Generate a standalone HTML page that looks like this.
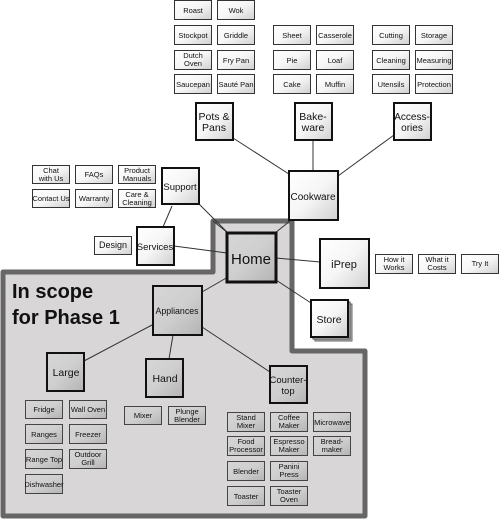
<!DOCTYPE html>
<html><head><meta charset="utf-8"><style>
html,body{margin:0;padding:0;background:#fff}
svg{display:block}
text{font-family:"Liberation Sans",sans-serif;fill:#111}
.s{font-size:7.5px}
.m{font-size:10.5px}
</style></head><body>
<svg width="500" height="519" viewBox="0 0 500 519" xmlns="http://www.w3.org/2000/svg">
<defs>
<linearGradient id="w" x1="0" y1="0" x2="1" y2="1"><stop offset="0" stop-color="#fff"/><stop offset="0.5" stop-color="#f6f6f6"/><stop offset="1" stop-color="#d0d0d0"/></linearGradient>
<linearGradient id="g" x1="0" y1="0" x2="1" y2="1"><stop offset="0" stop-color="#d6d6d6"/><stop offset="0.5" stop-color="#cfcfcf"/><stop offset="1" stop-color="#b4b4b4"/></linearGradient>
</defs>
<path d="M213,221 L292,221 L292,351 L365,351 L365,516 L3,516 L3,272 L213,272 Z" fill="#d8d6d6" stroke="#666" stroke-width="5" stroke-linejoin="round"/>
<text x="12" y="298" style="font-size:20px;font-weight:bold">In scope</text>
<text x="12" y="324" style="font-size:20px;font-weight:bold">for Phase 1</text>
<g stroke="#333" stroke-width="1" fill="none">
<line x1="233" y1="138" x2="292" y2="176"/>
<line x1="313" y1="140" x2="313" y2="171"/>
<line x1="394" y1="135" x2="338" y2="176"/>
<line x1="199" y1="204" x2="228" y2="233"/>
<line x1="172" y1="206" x2="163" y2="227"/>
<line x1="174" y1="246" x2="227" y2="253"/>
<line x1="213" y1="221" x2="228" y2="233"/>
<line x1="290" y1="221" x2="275" y2="233"/>
<line x1="276" y1="258" x2="320" y2="262"/>
<line x1="276" y1="280" x2="311" y2="303"/>
<line x1="228" y1="277" x2="202" y2="292"/>
<line x1="152" y1="325" x2="84" y2="361"/>
<line x1="173" y1="335" x2="169" y2="359"/>
<line x1="202" y1="327" x2="270" y2="372"/>
</g>
<g stroke="#333" stroke-width="1" fill="url(#w)">
<rect x="174.5" y="0.5" width="37" height="19"/><rect x="217.5" y="0.5" width="37" height="19"/>
<rect x="174.5" y="25.5" width="37" height="19"/><rect x="217.5" y="25.5" width="37" height="19"/>
<rect x="174.5" y="50.5" width="37" height="19"/><rect x="217.5" y="50.5" width="37" height="19"/>
<rect x="174.5" y="74.5" width="37" height="19"/><rect x="217.5" y="74.5" width="37" height="19"/>
<rect x="273.5" y="25.5" width="37" height="19"/><rect x="316.5" y="25.5" width="37" height="19"/>
<rect x="273.5" y="50.5" width="37" height="19"/><rect x="316.5" y="50.5" width="37" height="19"/>
<rect x="273.5" y="74.5" width="37" height="19"/><rect x="316.5" y="74.5" width="37" height="19"/>
<rect x="372.5" y="25.5" width="37" height="19"/><rect x="415.5" y="25.5" width="37" height="19"/>
<rect x="372.5" y="50.5" width="37" height="19"/><rect x="415.5" y="50.5" width="37" height="19"/>
<rect x="372.5" y="74.5" width="37" height="19"/><rect x="415.5" y="74.5" width="37" height="19"/>
<rect x="32.5" y="165.5" width="37" height="18"/><rect x="75.5" y="165.5" width="37" height="18"/><rect x="118.5" y="165.5" width="37" height="18"/>
<rect x="32.5" y="189.5" width="37" height="18"/><rect x="75.5" y="189.5" width="37" height="18"/><rect x="118.5" y="189.5" width="37" height="18"/>
<rect x="94.5" y="236.5" width="37" height="18"/>
<rect x="375.5" y="254.5" width="37" height="19"/><rect x="418.5" y="254.5" width="37" height="19"/><rect x="461.5" y="254.5" width="37" height="19"/>
</g>
<g stroke="#111" stroke-width="2" fill="url(#w)">
<rect x="196" y="103" width="37" height="37"/>
<rect x="295" y="103" width="37" height="37"/>
<rect x="394" y="103" width="37" height="37"/>
<rect x="289" y="171" width="49" height="49"/>
<rect x="162" y="168" width="37" height="36"/>
<rect x="137" y="227" width="37" height="38"/>
<rect x="320" y="239" width="49" height="49"/>
<rect x="315" y="304" width="37" height="37" fill="#bbb" stroke="#666" stroke-width="1"/>
<rect x="313" y="302" width="37" height="37" fill="#ddd" stroke="#444" stroke-width="1"/>
<rect x="311" y="300" width="37" height="37"/>
</g>
<g stroke="#111" fill="url(#g)">
<rect x="227" y="233" width="49" height="49" stroke-width="3"/>
<rect x="153" y="286" width="49" height="49" stroke-width="2"/>
<rect x="47" y="353" width="37" height="38" stroke-width="2"/>
<rect x="146" y="359" width="37" height="38" stroke-width="2"/>
<rect x="270" y="366" width="37" height="37" stroke-width="2"/>
</g>
<g stroke="#444" stroke-width="1" fill="url(#g)">
<rect x="25.5" y="400.5" width="37" height="18"/><rect x="69.5" y="400.5" width="37" height="18"/>
<rect x="25.5" y="424.5" width="37" height="19"/><rect x="69.5" y="424.5" width="37" height="19"/>
<rect x="25.5" y="449.5" width="37" height="19"/><rect x="69.5" y="449.5" width="37" height="19"/>
<rect x="25.5" y="474.5" width="37" height="19"/>
<rect x="124.5" y="406.5" width="37" height="18"/><rect x="168.5" y="406.5" width="37" height="18"/>
<rect x="227.5" y="412.5" width="37" height="19"/><rect x="270.5" y="412.5" width="37" height="19"/><rect x="313.5" y="412.5" width="37" height="19"/>
<rect x="227.5" y="436.5" width="37" height="19"/><rect x="270.5" y="436.5" width="37" height="19"/><rect x="313.5" y="436.5" width="37" height="19"/>
<rect x="227.5" y="461.5" width="37" height="19"/><rect x="270.5" y="461.5" width="37" height="19"/>
<rect x="227.5" y="486.5" width="37" height="19"/><rect x="270.5" y="486.5" width="37" height="19"/>
</g>
<g class="s" text-anchor="middle">
<text x="193" y="13">Roast</text><text x="236" y="13">Wok</text>
<text x="193" y="38">Stockpot</text><text x="236" y="38">Griddle</text>
<text x="193" y="58">Dutch</text><text x="193" y="66">Oven</text><text x="236" y="63">Fry Pan</text>
<text x="193" y="87">Saucepan</text><text x="236" y="87">Sauté Pan</text>
<text x="292" y="38">Sheet</text><text x="335" y="38">Casserole</text>
<text x="292" y="63">Pie</text><text x="335" y="63">Loaf</text>
<text x="292" y="87">Cake</text><text x="335" y="87">Muffin</text>
<text x="391" y="38">Cutting</text><text x="434" y="38">Storage</text>
<text x="391" y="63">Cleaning</text><text x="434" y="63">Measuring</text>
<text x="391" y="87">Utensils</text><text x="434" y="87">Protection</text>
<text x="51" y="173">Chat</text><text x="51" y="181">with Us</text>
<text x="94" y="177">FAQs</text>
<text x="137" y="173">Product</text><text x="137" y="181">Manuals</text>
<text x="51" y="201">Contact Us</text><text x="94" y="201">Warranty</text>
<text x="137" y="197">Care &amp;</text><text x="137" y="205">Cleaning</text>
<text x="113" y="248" style="font-size:9px">Design</text>
<text x="394" y="262">How it</text><text x="394" y="270">Works</text>
<text x="437" y="262">What it</text><text x="437" y="270">Costs</text>
<text x="480" y="266">Try It</text>
<text x="44" y="412">Fridge</text><text x="88" y="412">Wall Oven</text>
<text x="44" y="437">Ranges</text><text x="88" y="437">Freezer</text>
<text x="44" y="462">Range Top</text><text x="88" y="457">Outdoor</text><text x="88" y="465">Grill</text>
<text x="44" y="487">Dishwasher</text>
<text x="143" y="418">Mixer</text><text x="187" y="414">Plunge</text><text x="187" y="422">Blender</text>
<text x="246" y="420">Stand</text><text x="246" y="428">Mixer</text>
<text x="289" y="420">Coffee</text><text x="289" y="428">Maker</text>
<text x="332" y="425">Microwave</text>
<text x="246" y="444">Food</text><text x="246" y="452">Processor</text>
<text x="289" y="444">Espresso</text><text x="289" y="452">Maker</text>
<text x="332" y="444">Bread-</text><text x="332" y="452">maker</text>
<text x="246" y="474">Blender</text>
<text x="289" y="469">Panini</text><text x="289" y="477">Press</text>
<text x="246" y="499">Toaster</text>
<text x="289" y="494">Toaster</text><text x="289" y="502">Oven</text>
</g>
<g class="m" text-anchor="middle">
<text x="214" y="120">Pots &amp;</text><text x="214" y="131">Pans</text>
<text x="313" y="120">Bake-</text><text x="313" y="131">ware</text>
<text x="412" y="120" style="font-size:10px">Access-</text><text x="412" y="131" style="font-size:10px">ories</text>
<text x="313" y="200" style="font-size:10px">Cookware</text>
<text x="180" y="190" style="font-size:9.5px">Support</text>
<text x="155" y="250" style="font-size:9.5px">Services</text>
<text x="251" y="264" style="font-size:15px">Home</text>
<text x="344" y="268" style="font-size:11px">iPrep</text>
<text x="329" y="323">Store</text>
<text x="177" y="314" style="font-size:8.8px">Appliances</text>
<text x="66" y="376">Large</text>
<text x="165" y="382">Hand</text>
<text x="288" y="383" style="font-size:9.5px">Counter-</text><text x="288" y="394" style="font-size:9.5px">top</text>
</g>
</svg>
</body></html>
